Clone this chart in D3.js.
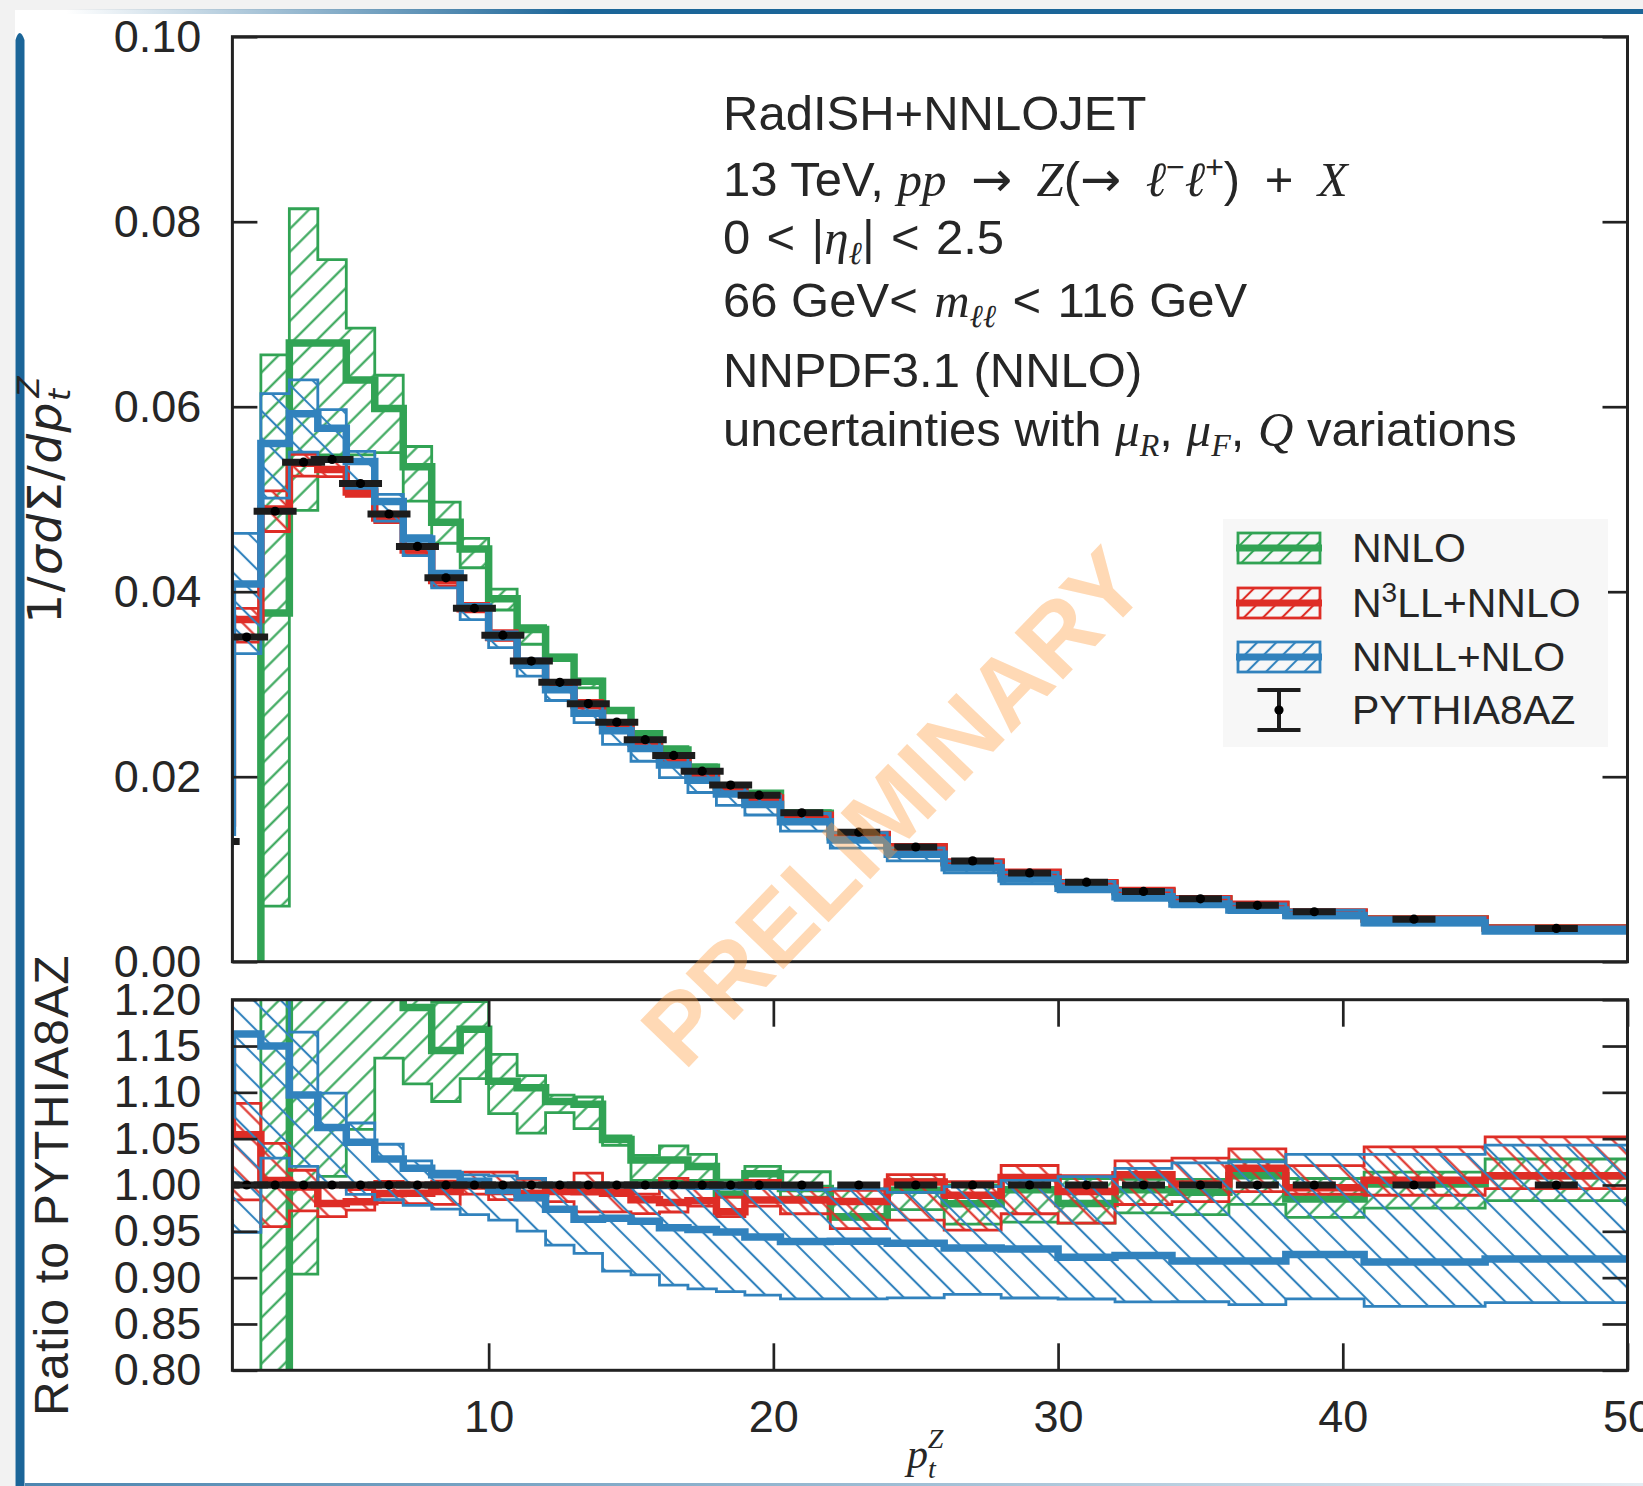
<!DOCTYPE html>
<html>
<head>
<meta charset="utf-8">
<script src="https://cdn.jsdelivr.net/npm/d3@7"></script>
<style>
  html, body { margin: 0; padding: 0; background: #ffffff; }
  svg { display: block; }
  text { font-family: "Liberation Sans", Arial, sans-serif; fill: #262626; }
  .math { font-family: "Liberation Serif", "DejaVu Serif", serif; font-style: italic; }
  .rel { font-family: "DejaVu Sans", sans-serif; font-style: normal; }
  .slab { font-family: "DejaVu Sans", sans-serif; }
  .slab .it { font-style: oblique; }
</style>
</head>
<body>
<svg id="chart" width="1643" height="1486"></svg>
<script>
// ---------------------------------------------------------------
// Z-boson transverse-momentum spectrum, 13 TeV, 66 < m_ll < 116 GeV
// Bin centres (GeV); the histogram steps sit half-way between them.
// ---------------------------------------------------------------
const binCenters = [0.5, 1.5, 2.5, 3.5, 4.5, 5.5, 6.5, 7.5, 8.5, 9.5, 10.5, 11.5, 12.5, 13.5, 14.5,
  15.5, 16.5, 17.5, 18.5, 19.5, 21, 23, 25, 27, 29, 31, 33, 35, 37, 39, 42.5, 47.5];

// PYTHIA8 AZ tune (reference for the ratio panel)
const pythia = [0.0130, 0.0351, 0.0487, 0.0540, 0.0543, 0.0517, 0.0484, 0.0449, 0.0415, 0.0382,
  0.0353, 0.0325, 0.0302, 0.0279, 0.0259, 0.0240, 0.0223, 0.0206, 0.0191, 0.0180,
  0.0161, 0.0140, 0.0124, 0.0109, 0.0096, 0.0086, 0.0076, 0.0068, 0.0061, 0.0054, 0.0046, 0.0036];

// Fixed-order NNLO (first two bins are negative, below the frame)
const nnloCentral = [-0.0100, -0.0050, 0.0377, 0.0669, 0.0669, 0.0629, 0.0598, 0.0535, 0.04752, 0.04462,
  0.03925, 0.03591, 0.03292, 0.03033, 0.02717, 0.02465, 0.02290, 0.02101, 0.01891, 0.01822,
  0.01604, 0.01352, 0.01233, 0.01068, 0.009552, 0.008428, 0.007562, 0.006746, 0.006161, 0.005319, 0.004605, 0.003636];
const nnloLow = [-0.0250, -0.0200, 0.0060, 0.0488, 0.0548, 0.0548, 0.05503, 0.0498, 0.04524, 0.04259,
  0.03802, 0.03432, 0.03256, 0.02960, 0.02701, 0.02412, 0.02239, 0.02070, 0.01885, 0.01805,
  0.01589, 0.01348, 0.01207, 0.01044, 0.009216, 0.008247, 0.007372, 0.006582, 0.005972, 0.005211, 0.004485, 0.003539];
const nnloHigh = [-0.0020, -0.0010, 0.0656, 0.0814, 0.0759, 0.0685, 0.0634, 0.0557, 0.04968, 0.04576,
  0.04028, 0.03634, 0.03313, 0.03055, 0.02727, 0.02477, 0.02324, 0.02128, 0.01920, 0.01836,
  0.01633, 0.01394, 0.01247, 0.01090, 0.009696, 0.008660, 0.007646, 0.006841, 0.006265, 0.005438, 0.004664, 0.003701];

// Resummed N3LL + NNLO
const n3llCentral = [0.0150, 0.03700, 0.04894, 0.05389, 0.05321, 0.05077, 0.04796, 0.04450, 0.04121, 0.03816,
  0.03505, 0.03221, 0.02999, 0.02770, 0.02567, 0.02362, 0.02188, 0.02025, 0.01855, 0.01771,
  0.01584, 0.01375, 0.01244, 0.01078, 0.009677, 0.008540, 0.007684, 0.006807, 0.006210, 0.005384, 0.004623, 0.003636];
const n3llLow = [0.0143, 0.03454, 0.04651, 0.05249, 0.05245, 0.05030, 0.04748, 0.04400, 0.04063, 0.03782,
  0.03474, 0.03198, 0.02966, 0.02709, 0.02515, 0.02326, 0.02165, 0.02013, 0.01845, 0.01759,
  0.01560, 0.01334, 0.01193, 0.01037, 0.009302, 0.008247, 0.007440, 0.006678, 0.006057, 0.005346, 0.004549, 0.003586];
const n3llHigh = [0.0160, 0.03819, 0.05089, 0.05486, 0.05419, 0.05144, 0.04859, 0.04499, 0.04167, 0.03873,
  0.03579, 0.03270, 0.03014, 0.02826, 0.02577, 0.02376, 0.02246, 0.02066, 0.01885, 0.01809,
  0.01604, 0.01392, 0.01254, 0.01094, 0.009802, 0.008686, 0.007798, 0.006997, 0.006338, 0.005513, 0.004789, 0.003787];

// Resummed NNLL + NLO
const nnllCentral = [0.0140, 0.04082, 0.05601, 0.05924, 0.05767, 0.05408, 0.04976, 0.04571, 0.04196, 0.03835,
  0.03509, 0.03205, 0.02941, 0.02687, 0.02497, 0.02306, 0.02127, 0.01961, 0.01813, 0.01699,
  0.01512, 0.01315, 0.01162, 0.01016, 0.008938, 0.007929, 0.007022, 0.006242, 0.005600, 0.004995, 0.004218, 0.003312];
const nnllLow = [0.0125, 0.03331, 0.05011, 0.05508, 0.05430, 0.05118, 0.04763, 0.04391, 0.04042, 0.03698,
  0.03396, 0.03088, 0.02824, 0.02584, 0.02349, 0.02167, 0.01989, 0.01829, 0.01690, 0.01586,
  0.01412, 0.01228, 0.01089, 0.009614, 0.008429, 0.007542, 0.006642, 0.005943, 0.005313, 0.004736, 0.003997, 0.003143];
const nnllHigh = [0.0165, 0.04630, 0.06141, 0.06291, 0.05968, 0.05516, 0.05053, 0.04607, 0.04212, 0.03862,
  0.03565, 0.03273, 0.03026, 0.02787, 0.02585, 0.02393, 0.02223, 0.02052, 0.01902, 0.01793,
  0.01602, 0.01394, 0.01230, 0.01088, 0.009648, 0.008677, 0.007737, 0.006963, 0.006253, 0.005578, 0.004752, 0.003755];

// Axis ticks
const xTicks = [10, 20, 30, 40, 50];
const yTicksMain = [0.00, 0.02, 0.04, 0.06, 0.08, 0.10];
const yTicksRatio = [0.80, 0.85, 0.90, 0.95, 1.00, 1.05, 1.10, 1.15, 1.20];

// ---------------------------------------------------------------
const svg = d3.select("#chart");
const defs = svg.append("defs");

const x = d3.scaleLinear().domain([1, 50]).range([232.4, 1627.5]);
const yMain = d3.scaleLinear().domain([0, 0.10]).range([961.7, 36.7]);
const yRatio = d3.scaleLinear().domain([0.80, 1.20]).range([1370.3, 999.7]);

// step edges half-way between neighbouring bin centres
const edges = [binCenters[0] - (binCenters[1] - binCenters[0]) / 2];
for (let i = 1; i < binCenters.length; i++) edges.push((binCenters[i - 1] + binCenters[i]) / 2);
const nB = binCenters.length;
edges.push(binCenters[nB - 1] + (binCenters[nB - 1] - binCenters[nB - 2]) / 2);

const GREEN = "#31a354", RED = "#de2d26", BLUE = "#3182bd", INK = "#1c1c1c";

function hatch(id, color, spacing, angle, width) {
  const p = defs.append("pattern").attr("id", id)
    .attr("patternUnits", "userSpaceOnUse")
    .attr("width", spacing).attr("height", spacing)
    .attr("patternTransform", `rotate(${angle})`);
  p.append("line").attr("x1", spacing / 2).attr("x2", spacing / 2)
    .attr("y1", -2).attr("y2", spacing + 2)
    .attr("stroke", color).attr("stroke-width", width);
}
hatch("h-nnlo", GREEN, 16.3, 45, 2.1);
hatch("h-n3ll", RED, 16.3, -45, 2.1);
hatch("h-nnll", BLUE, 19.2, -45, 2.1);
hatch("l-nnlo", GREEN, 13.5, 45, 2.1);
hatch("l-n3ll", RED, 13.5, 45, 2.1);
hatch("l-nnll", BLUE, 13.5, 45, 2.1);

const series = [
  { key: "nnlo", color: GREEN, central: nnloCentral, low: nnloLow, high: nnloHigh },
  { key: "n3ll", color: RED, central: n3llCentral, low: n3llLow, high: n3llHigh },
  { key: "nnll", color: BLUE, central: nnllCentral, low: nnllLow, high: nnllHigh }
];

// ---------------- page frame (slide decoration) ----------------
const grad = defs.append("linearGradient").attr("id", "topbar").attr("x1", "0").attr("x2", "1");
grad.append("stop").attr("offset", "0.04").attr("stop-color", "#1b6598").attr("stop-opacity", 0);
grad.append("stop").attr("offset", "0.35").attr("stop-color", "#1b6598").attr("stop-opacity", 1);
grad.append("stop").attr("offset", "1").attr("stop-color", "#1b6598").attr("stop-opacity", 1);
const grad2 = defs.append("linearGradient").attr("id", "botbar").attr("x1", "0").attr("x2", "1");
grad2.append("stop").attr("offset", "0").attr("stop-color", "#4d86b0").attr("stop-opacity", 1);
grad2.append("stop").attr("offset", "1").attr("stop-color", "#4d86b0").attr("stop-opacity", 0.15);

svg.append("rect").attr("width", 1643).attr("height", 1486).attr("fill", "#ffffff");
svg.append("rect").attr("width", 15).attr("height", 1486).attr("fill", "#f2f2f2");
svg.append("rect").attr("width", 1643).attr("height", 10).attr("fill", "#f2f2f2");
svg.append("rect").attr("x", 0).attr("y", 9).attr("width", 1643).attr("height", 5).attr("fill", "url(#topbar)");
svg.append("path").attr("d", "M15.5,1486 L15.5,40 Q19.5,26 24.5,40 L24.5,1486 Z").attr("fill", "#1b6598");
svg.append("rect").attr("x", 25).attr("y", 1483).attr("width", 1618).attr("height", 3).attr("fill", "url(#botbar)");

// ---------------- panels ----------------
function clip(id, y0, y1) {
  defs.append("clipPath").attr("id", id).append("rect")
    .attr("x", x(1)).attr("y", y0).attr("width", x(50) - x(1)).attr("height", y1 - y0);
}
clip("clip-main", yMain(0.10), yMain(0));
clip("clip-ratio", yRatio(1.20), yRatio(0.80));

function drawPanel(yScale, toPlot, clipId) {
  const layer = svg.append("g").attr("clip-path", `url(#${clipId})`);
  series.forEach(s => {
    const pts = [];
    binCenters.forEach((c, i) => {
      const d = { lo: toPlot(s.low[i], i), hi: toPlot(s.high[i], i), ce: toPlot(s.central[i], i) };
      pts.push(Object.assign({ x: edges[i] }, d));
      pts.push(Object.assign({ x: edges[i + 1] }, d));
    });
    const band = d3.area().x(d => x(d.x)).y0(d => yScale(d.lo)).y1(d => yScale(d.hi));
    layer.append("path").attr("d", band(pts))
      .attr("fill", `url(#h-${s.key})`).attr("stroke", s.color).attr("stroke-width", 2.8)
      .attr("stroke-linejoin", "miter");
    const line = d3.line().x(d => x(d.x)).y(d => yScale(d.ce));
    layer.append("path").attr("d", line(pts)).attr("fill", "none")
      .attr("stroke", s.color).attr("stroke-width", 7.5).attr("stroke-linejoin", "miter");
  });
  // PYTHIA8AZ: markers with error-bar caps
  layer.selectAll(null).data(binCenters).join("line")
    .attr("x1", c => x(c) - 21.5).attr("x2", c => x(c) + 21.5)
    .attr("y1", (c, i) => yScale(toPlot(pythia[i], i))).attr("y2", (c, i) => yScale(toPlot(pythia[i], i)))
    .attr("stroke", INK).attr("stroke-width", 7);
  layer.selectAll(null).data(binCenters).join("circle")
    .attr("cx", c => x(c)).attr("cy", (c, i) => yScale(toPlot(pythia[i], i)))
    .attr("r", 4.6).attr("fill", "#000");
}

drawPanel(yMain, v => v, "clip-main");
drawPanel(yRatio, (v, i) => v / pythia[i], "clip-ratio");

// ---------------- axes ----------------
function styleAxis(g) {
  g.select(".domain").remove();
  g.selectAll(".tick line").attr("stroke", "#222").attr("stroke-width", 2.7);
  g.selectAll(".tick text").attr("font-size", 45).attr("fill", "#262626")
    .attr("font-family", "'Liberation Sans', Arial, sans-serif");
}
const fmt2 = d3.format(".2f");

svg.append("g").attr("transform", `translate(${x(1)},0)`)
  .call(d3.axisLeft(yMain).tickValues(yTicksMain).tickFormat(fmt2).tickSizeInner(-25).tickSizeOuter(0).tickPadding(31))
  .call(styleAxis);
svg.append("g").attr("transform", `translate(${x(50)},0)`)
  .call(d3.axisRight(yMain).tickValues(yTicksMain).tickFormat("").tickSizeInner(-25).tickSizeOuter(0))
  .call(styleAxis);

svg.append("g").attr("transform", `translate(${x(1)},0)`)
  .call(d3.axisLeft(yRatio).tickValues(yTicksRatio).tickFormat(fmt2).tickSizeInner(-25).tickSizeOuter(0).tickPadding(31))
  .call(styleAxis);
svg.append("g").attr("transform", `translate(${x(50)},0)`)
  .call(d3.axisRight(yRatio).tickValues(yTicksRatio).tickFormat("").tickSizeInner(-25).tickSizeOuter(0))
  .call(styleAxis);
svg.append("g").attr("transform", `translate(0,${yRatio(0.80)})`)
  .call(d3.axisBottom(x).tickValues(xTicks).tickFormat(d3.format("d")).tickSizeInner(-27).tickSizeOuter(0).tickPadding(30))
  .call(styleAxis);
svg.append("g").attr("transform", `translate(0,${yRatio(1.20)})`)
  .call(d3.axisTop(x).tickValues(xTicks).tickFormat("").tickSizeInner(-27).tickSizeOuter(0))
  .call(styleAxis);

// frames
[[yMain(0.10), yMain(0)], [yRatio(1.20), yRatio(0.80)]].forEach(([t, b]) => {
  svg.append("rect").attr("x", x(1)).attr("y", t).attr("width", x(50) - x(1)).attr("height", b - t)
    .attr("fill", "none").attr("stroke", "#222").attr("stroke-width", 3);
});

// ---------------- axis titles ----------------
const yl = svg.append("text").attr("class", "slab")
  .attr("transform", `translate(61,${(yMain(0) + yMain(0.10)) / 2}) rotate(-90)`)
  .attr("text-anchor", "middle").attr("font-size", 47).attr("letter-spacing", 1.5);
yl.append("tspan").text("1/");
yl.append("tspan").attr("class", "it").text("σd");
yl.append("tspan").text("Σ/");
yl.append("tspan").attr("class", "it").text("dp");
yl.append("tspan").attr("class", "it").attr("font-size", 31).attr("dy", 9).text("t");
yl.append("tspan").attr("class", "it").attr("font-size", 31).attr("dx", -10).attr("dy", -31).text("Z");

svg.append("text").attr("transform", `translate(68,${(yRatio(0.8) + yRatio(1.2)) / 2}) rotate(-90)`)
  .attr("text-anchor", "middle").attr("font-size", 48).attr("letter-spacing", 1.2)
  .text("Ratio to PYTHIA8AZ");

const xl = svg.append("text").attr("x", 907).attr("y", 1468).attr("font-size", 42);
xl.append("tspan").attr("class", "math").text("p");
xl.append("tspan").attr("class", "math").attr("font-size", 28).attr("dy", 10).text("t");
xl.append("tspan").attr("class", "math").attr("font-size", 28).attr("dx", -8).attr("dy", -30).text("Z");

// ---------------- annotation ----------------
const ann = svg.append("g").attr("font-size", 49);
const L = (yb) => ann.append("text").attr("x", 723).attr("y", yb);
const SP = "\u2002", TS = "\u2004";
L(130).text("RadISH+NNLOJET");
{
  const t = L(196);
  t.append("tspan").text("13 TeV, ");
  t.append("tspan").attr("class", "math").text("pp");
  t.append("tspan").attr("class", "rel").text(SP + "→" + SP);
  t.append("tspan").attr("class", "math").text("Z");
  t.append("tspan").text("(");
  t.append("tspan").attr("class", "rel").text("→" + SP);
  t.append("tspan").attr("class", "math").text("ℓ");
  t.append("tspan").attr("font-size", 32).attr("dy", -18).text("−");
  t.append("tspan").attr("class", "math").attr("dy", 18).text("ℓ");
  t.append("tspan").attr("font-size", 32).attr("dy", -18).text("+");
  t.append("tspan").attr("dy", 18).text(")" + SP + "+" + SP);
  t.append("tspan").attr("class", "math").text("X");
}
{
  const t = L(254);
  t.append("tspan").text("0" + TS + "<" + TS + "|");
  t.append("tspan").attr("class", "math").text("η");
  t.append("tspan").attr("class", "math").attr("font-size", 32).attr("dy", 10).text("ℓ");
  t.append("tspan").attr("dy", -10).text("|" + TS + "<" + TS + "2.5");
}
{
  const t = L(317);
  t.append("tspan").text("66 GeV<" + TS);
  t.append("tspan").attr("class", "math").text("m");
  t.append("tspan").attr("class", "math").attr("font-size", 32).attr("dy", 10).text("ℓℓ");
  t.append("tspan").attr("dy", -10).text(TS + "<" + TS + "116 GeV");
}
L(387).text("NNPDF3.1 (NNLO)");
{
  const t = L(446);
  t.append("tspan").text("uncertainties with ");
  t.append("tspan").attr("class", "math").text("μ");
  t.append("tspan").attr("class", "math").attr("font-size", 32).attr("dy", 10).text("R");
  t.append("tspan").attr("dy", -10).text(", ");
  t.append("tspan").attr("class", "math").text("μ");
  t.append("tspan").attr("class", "math").attr("font-size", 32).attr("dy", 10).text("F");
  t.append("tspan").attr("dy", -10).text(", ");
  t.append("tspan").attr("class", "math").text("Q");
  t.append("tspan").text(" variations");
}

// ---------------- legend ----------------
const leg = svg.append("g");
leg.append("rect").attr("x", 1223).attr("y", 519).attr("width", 385).attr("height", 228).attr("fill", "#f7f7f7");
const legendRows = [
  { key: "nnlo", color: GREEN, label: ["NNLO"], cy: 548 },
  { key: "n3ll", color: RED, label: ["N", "3", "LL+NNLO"], cy: 603 },
  { key: "nnll", color: BLUE, label: ["NNLL+NLO"], cy: 657 }
];
legendRows.forEach(r => {
  leg.append("rect").attr("x", 1238).attr("y", r.cy - 15).attr("width", 82).attr("height", 30)
    .attr("fill", `url(#l-${r.key})`).attr("stroke", r.color).attr("stroke-width", 2.8);
  leg.append("line").attr("x1", 1236).attr("x2", 1322).attr("y1", r.cy).attr("y2", r.cy)
    .attr("stroke", r.color).attr("stroke-width", 7);
  const t = leg.append("text").attr("x", 1352).attr("y", r.cy + 14).attr("font-size", 41);
  if (r.label.length === 1) t.text(r.label[0]);
  else {
    t.append("tspan").text(r.label[0]);
    t.append("tspan").attr("font-size", 28).attr("dy", -15).text(r.label[1]);
    t.append("tspan").attr("dy", 15).text(r.label[2]);
  }
});
{
  const cx = 1279, cy = 710;
  leg.append("line").attr("x1", cx).attr("x2", cx).attr("y1", cy - 20).attr("y2", cy + 20).attr("stroke", INK).attr("stroke-width", 4);
  leg.append("line").attr("x1", cx - 21.5).attr("x2", cx + 21.5).attr("y1", cy - 20).attr("y2", cy - 20).attr("stroke", INK).attr("stroke-width", 4);
  leg.append("line").attr("x1", cx - 21.5).attr("x2", cx + 21.5).attr("y1", cy + 20).attr("y2", cy + 20).attr("stroke", INK).attr("stroke-width", 4);
  leg.append("circle").attr("cx", cx).attr("cy", cy).attr("r", 4.6).attr("fill", "#000");
  leg.append("text").attr("x", 1352).attr("y", cy + 14).attr("font-size", 41).text("PYTHIA8AZ");
}

// ---------------- watermark ----------------
svg.append("text").attr("transform", "translate(892,806) rotate(-46)")
  .attr("text-anchor", "middle").attr("dy", "0.36em")
  .attr("font-size", 98).attr("font-weight", "bold")
  .style("fill", "#ff9a3c").attr("fill-opacity", 0.38)
  .text("PRELIMINARY");
</script>
</body>
</html>
